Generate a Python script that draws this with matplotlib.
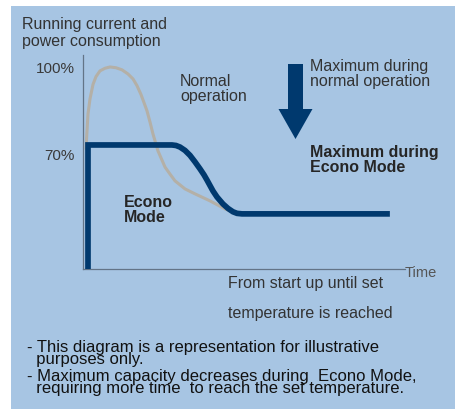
import matplotlib
matplotlib.use("Agg")
import matplotlib.pyplot as plt
from matplotlib.patches import Rectangle, FancyArrow

plt.rcParams['font.family'] = ['Liberation Sans', 'DejaVu Sans']

# ---------------- data (schematic levels, % of max running current) ----------------
normal_time = [0.93, 1.24, 1.55, 2.17, 3.11, 4.04, 5.28, 6.83, 8.39, 10.25, 12.11, 13.98,
               15.53, 16.77, 18.01, 18.94, 19.88, 20.81, 21.74, 23.29, 25.47,
               27.02, 28.57, 31.68, 34.78, 39.44, 44.10, 47.5]
normal_level = [68.5, 75.4, 81.9, 87.7, 93.3, 96.3, 98.5, 99.5, 100.0, 99.7, 98.9, 97.3,
                95.4, 92.8, 89.4, 86.3, 83.1, 78.8, 74.2, 67.7, 61.5,
                58.8, 56.2, 53.1, 51.2, 48.5, 45.4, 43.8]

econo_time = [1.55, 1.55, 27.64, 28.88, 30.12, 31.68, 33.23, 34.78, 36.34, 37.58, 38.51,
              39.44, 40.37, 41.61, 43.48, 45.03, 46.58, 47.83, 49.38, 95.3]
econo_level = [22.3, 70.0, 70.0, 69.8, 69.2, 67.9, 66.0, 63.5, 60.8, 58.5, 56.5,
               54.4, 52.3, 50.0, 47.3, 45.6, 44.3, 43.7, 43.5, 43.5]

level_ticks = [100, 70]
level_labels = ["100%", "70%"]

# ---------------- figure ----------------
W, H = 456, 410
fig = plt.figure(figsize=(W / 100, H / 100), dpi=100)
fig.patch.set_facecolor('white')

def P(x, y):
    return (x / W, 1 - y / H)

bg = Rectangle(P(11, 410), (W - 11) / W, (410 - 7) / H, transform=fig.transFigure,
               facecolor='#a7c5e3', edgecolor='none', zorder=-10)
fig.patches.append(bg)

ax = fig.add_axes([83 / W, (H - 270) / H, (405 - 83) / W, (270 - 56) / H])
ax.set_zorder(2)
ax.set_facecolor('none')
ax.set_xlim(0, 100)
ax.set_ylim(22.3, 104.6)
for s in ['top', 'right']:
    ax.spines[s].set_visible(False)
for s in ['left', 'bottom']:
    ax.spines[s].set_color('#637487')
    ax.spines[s].set_linewidth(0.9)
ax.set_xticks([])
ax.set_yticks([])

ax.plot(normal_time, normal_level, color='#b4b0a7', lw=2.2, solid_capstyle='round',
        solid_joinstyle='round', zorder=2)
ax.plot(econo_time, econo_level, color='#00396e', lw=4.1, solid_joinstyle='miter',
        solid_capstyle='butt', zorder=3, clip_on=False)

# level labels (pixel offsets are style only)
label_offsets = [-1, -10]
for v, lab, off in zip(level_ticks, level_labels, label_offsets):
    ax.annotate(lab, xy=(0, v), xycoords='data', xytext=(-8, off),
                textcoords='offset pixels', ha='right', va='center',
                fontsize=11, color='#3a3a3a')

txt = dict(color='#333333', fontsize=11.5)
fig.text(*P(22, 33), "Running current and\npower consumption", ha='left', va='center',
         linespacing=1.1, **txt)
fig.text(*P(180, 89), "Normal\noperation", ha='left', va='center', linespacing=1.05, **txt)
fig.text(*P(310, 74), "Maximum during\nnormal operation", ha='left', va='center',
         linespacing=1.0, **txt)
fig.text(*P(310, 160), "Maximum during\nEcono Mode", ha='left', va='center',
         linespacing=1.05, fontweight='bold', color='#262626', fontsize=11.5)
fig.text(*P(124, 210), "Econo\nMode", ha='left', va='center', linespacing=1.0,
         fontweight='bold', color='#262626', fontsize=11.5)
fig.text(*P(405, 273), "Time", ha='left', va='center', color='#555555', fontsize=10.5)
fig.text(*P(228, 284), "From start up until set", ha='left', va='center', **txt)
fig.text(*P(228, 314), "temperature is reached", ha='left', va='center', **txt)

notes = [(27, 364, "- This diagram is a representation for illustrative\n  purposes only."),
         (27, 393, "- Maximum capacity decreases during  Econo Mode,\n  requiring more time  to reach the set temperature.")]
for x, y, s in notes:
    fig.text(*P(x, y), s, ha='left', va='baseline', color='#111111', fontsize=12,
             linespacing=0.78, multialignment='left')

# arrow
arr = FancyArrow(295.5 / W, 1 - 65 / H, 0, -(140 - 65) / H, width=15 / W,
                 head_width=34 / W, head_length=30 / H, length_includes_head=True,
                 transform=fig.transFigure, facecolor='#00396e', edgecolor='none',
                 zorder=5)
fig.patches.append(arr)

fig.savefig('out.png', dpi=100, facecolor='white')
